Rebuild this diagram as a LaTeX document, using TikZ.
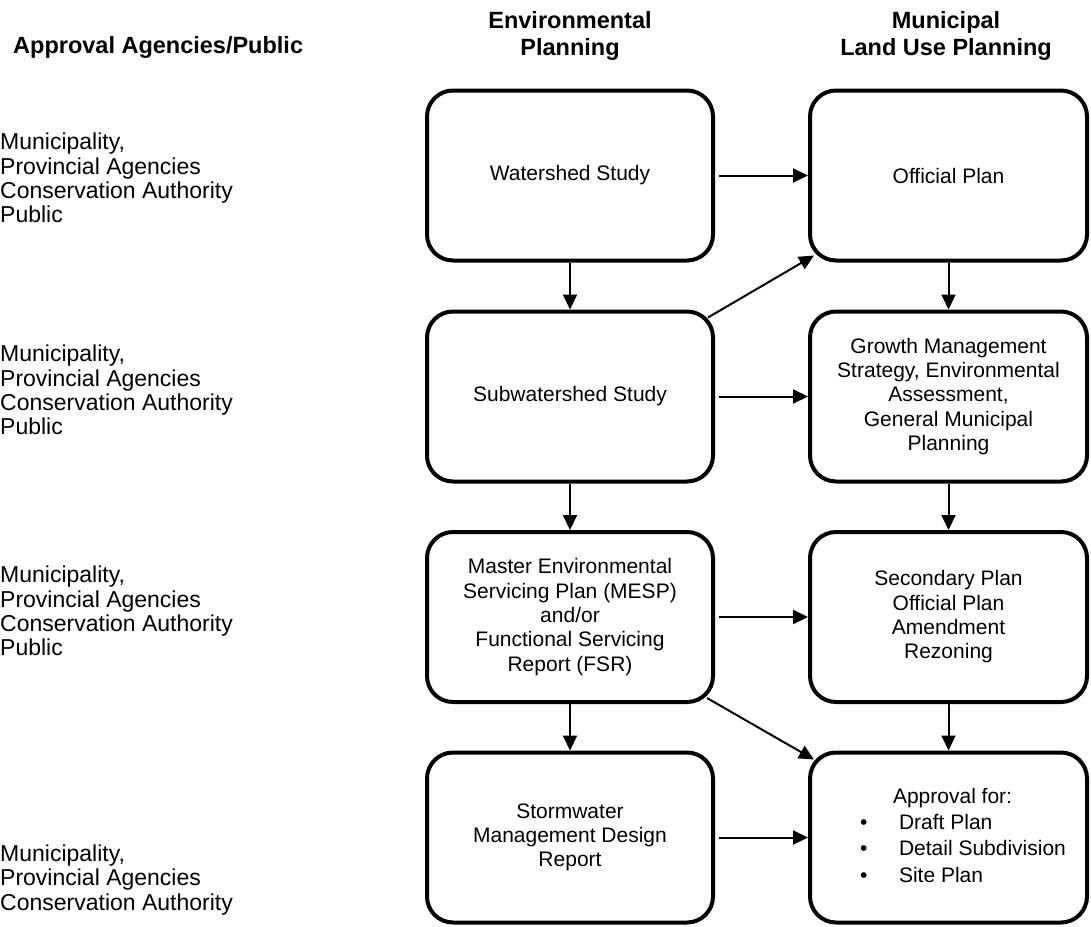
\documentclass[tikz,border=0pt]{standalone}
\usepackage{fontspec}
\setmainfont{Liberation Sans}
\usetikzlibrary{arrows.meta,calc}
\begin{document}
\begin{tikzpicture}[x=1pt,y=-1pt,
  box/.style={draw, line width=4pt, rounded corners=26pt, align=center, inner sep=0pt,
    font=\fontsize{21}{24.3}\selectfont},
  lbox/.style={box, minimum width=286pt, minimum height=170pt},
  rbox/.style={box, minimum width=277pt, minimum height=170pt},
  arr/.style={line width=2pt, -{Triangle[length=15pt,width=14pt]}},
  hdr/.style={inner sep=0pt, align=center, font=\bfseries\fontsize{23.5}{27}\selectfont},
  agency/.style={inner sep=0pt, anchor=west, align=left, font=\fontsize{23}{24.3}\selectfont}
]
\useasboundingbox (0,0) rectangle (1091,926);
\fill[white] (0,0) rectangle (1091,926);

% headers
\node[hdr, anchor=base west] (h0) at (13,53) {Approval Agencies/Public};
\node[hdr] (h1) at (570,35.5) {Environmental\\Planning};
\node[hdr] (h2) at (946,35.5) {Municipal\\Land Use Planning};

% agencies
\node[agency] (a1) at (0,178) {Municipality,\\Provincial Agencies\\Conservation Authority\\Public};
\node[agency] (a2) at (0,390) {Municipality,\\Provincial Agencies\\Conservation Authority\\Public};
\node[agency] (a3) at (0,611) {Municipality,\\Provincial Agencies\\Conservation Authority\\Public};
\node[agency] (a4) at (0,880) {Municipality,\\Provincial Agencies\\Conservation Authority};

% environmental planning column
\node[lbox] (ws) at (570,175.5) {Watershed Study};
\node[lbox] (sw) at (570,396.5) {Subwatershed Study};
\node[lbox] (ms) at (570,617) {Master Environmental\\Servicing Plan (MESP)\\and/or\\Functional Servicing\\Report (FSR)};
\node[lbox] (sm) at (570,837.5) {Stormwater\\Management Design\\Report};

% municipal column
\node[rbox] (op) at (948.5,175.5) {Official Plan};
\node[rbox] (gm) at (948.5,396.5) {Growth Management\\Strategy, Environmental\\Assessment,\\General Municipal\\Planning};
\node[rbox] (sp) at (948.5,617) {Secondary Plan\\Official Plan\\Amendment\\Rezoning};
\node[rbox] (ap) at (948.5,837.5) {\hspace*{29pt}{\renewcommand\arraystretch{1.08}%
\begin{tabular}{@{}l@{}}
\hspace*{33pt}Approval for:\\
\makebox[39pt][l]{\textbullet}Draft Plan\\
\makebox[39pt][l]{\textbullet}Detail Subdivision\\
\makebox[39pt][l]{\textbullet}Site Plan
\end{tabular}}};

% vertical arrows
\draw[arr] (ws.south) -- (sw.north);
\draw[arr] (sw.south) -- (ms.north);
\draw[arr] (ms.south) -- (sm.north);
\draw[arr] (op.south) -- (gm.north);
\draw[arr] (gm.south) -- (sp.north);
\draw[arr] (sp.south) -- (ap.north);

% horizontal arrows
\draw[arr] ([xshift=4pt]ws.east) -- (op.west);
\draw[arr] ([xshift=4pt]sw.east) -- (gm.west);
\draw[arr] ([xshift=4pt]ms.east) -- (sp.west);
\draw[arr] ([xshift=4pt]sm.east) -- (ap.west);

% diagonal arrows
\draw[arr] ($(sw.north east)+(-7,8)$) -- ($(op.south west)+(6,-7)$);
\draw[arr] ($(ms.south east)+(-8,-6)$) -- ($(ap.north west)+(6,9)$);
\end{tikzpicture}
\end{document}
